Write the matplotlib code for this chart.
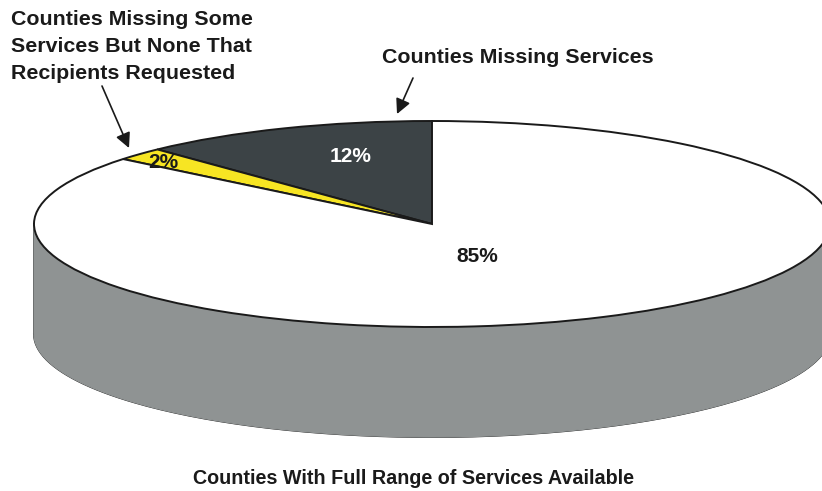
import numpy as np
import matplotlib
matplotlib.use("Agg")
import matplotlib.pyplot as plt

# Shares of counties (percent), in drawing order starting at 12 o'clock, counter-clockwise
categories = [
    "Counties Missing Services",
    "Counties Missing Some\nServices But None That\nRecipients Requested",
    "Counties With Full Range of Services Available",
]
shares = [12, 2, 85]
value_labels = ["12%", "2%", "85%"]

slice_colors = ["#3c4346", "#f7e523", "#ffffff"]
side_color = "#8f9393"

W, H = 822, 491
CX, CY = 432, 224          # pie centre in pixels
RX, RY = 398, 103          # ellipse semi-axes in pixels
DEPTH = 110                # thickness of the disc in pixels

plt.rcParams["font.family"] = ["Liberation Sans", "DejaVu Sans"]
plt.rcParams["font.weight"] = "bold"

fig = plt.figure(figsize=(W / 100, H / 100), dpi=100)
ax = fig.add_axes([0, 0, 1, 1])


def px(x, y):
    """Pixel position -> data position (unit circle squashed into the ellipse)."""
    return (x - CX) / RX, (CY - y) / RY


# side of the disc: front half of the rim pushed down by the depth
d = DEPTH / RY
theta = np.linspace(np.pi, 2 * np.pi, 200)
rim_x = np.cos(theta)
rim_y = np.sin(theta)
side_x = np.concatenate([rim_x, rim_x[::-1]])
side_y = np.concatenate([rim_y, rim_y[::-1] - d])
ax.fill(side_x, side_y, color=side_color, zorder=1)
ax.plot(rim_x, rim_y - d, color="#1a1a1a", lw=1.4, zorder=2)
ax.plot([-1, -1], [0, -d], color="#1a1a1a", lw=1.4, zorder=2)
ax.plot([1, 1], [0, -d], color="#1a1a1a", lw=1.4, zorder=2)

# top face
ax.pie(
    shares,
    colors=slice_colors,
    startangle=90,
    counterclock=True,
    radius=1,
    wedgeprops=dict(edgecolor="#1a1a1a", linewidth=1.4),
)
for p in ax.patches:
    p.set_zorder(3)

ax.set_aspect("auto")
x0, y1 = px(0, 0)
x1, y0 = px(W, H)
ax.set_xlim(x0, x1)
ax.set_ylim(y0, y1)
ax.axis("off")

# percent labels
label_pos = [(351, 157), (163, 163), (477, 257)]
label_colors = ["white", "#1a1a1a", "#1a1a1a"]
for txt, (lx, ly), c in zip(value_labels, label_pos, label_colors):
    ax.text(*px(lx, ly), txt, color=c, fontsize=15, fontweight="bold",
            ha="center", va="center", zorder=5)

# category labels with arrows
arrow = dict(arrowstyle="-|>,head_length=0.9,head_width=0.45", color="#1a1a1a",
             lw=1.2, shrinkA=0, shrinkB=0)
ax.annotate("", xy=px(397, 114), xytext=px(413, 78), arrowprops=arrow, zorder=6)
ax.annotate("", xy=px(129, 148), xytext=px(102, 86), arrowprops=arrow, zorder=6)

ax.text(*px(518, 58), categories[0], fontsize=15.4, fontweight="bold",
        ha="center", va="center", color="#1a1a1a")
ax.text(*px(11, 10), categories[1], fontsize=15.4, fontweight="bold",
        ha="left", va="top", color="#1a1a1a", linespacing=1.55)
ax.text(*px(413, 479), categories[2], fontsize=14.2, fontweight="bold",
        ha="center", va="center", color="#1a1a1a")

fig.savefig("out.png", dpi=100)
